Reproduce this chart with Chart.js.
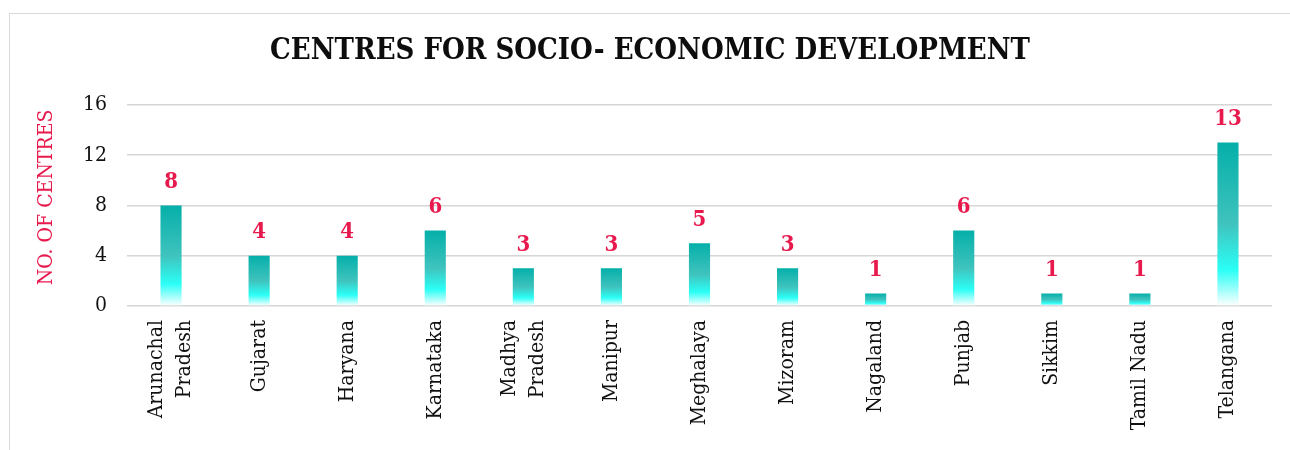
<!DOCTYPE html>
<html lang="en">
<head>
    <meta charset="UTF-8">
    <title>Centres for Socio-Economic Development</title>
    <script src="https://cdn.jsdelivr.net/npm/chart.js@4.4.0/dist/chart.umd.min.js"></script>
    <style>
        body {
            margin: 0;
            background: #ffffff;
            overflow: hidden;
        }
        .frame {
            position: absolute;
            left: 9px;
            top: 13px;
            width: 1300px;
            height: 460px;
            border: 1px solid #d9d9d9;
        }
        .wrap {
            position: absolute;
            left: 0;
            top: 0;
            width: 1290px;
            height: 450px;
        }
    </style>
</head>
<body>
    <div class="frame"></div>
    <div class="wrap"><canvas id="chart"></canvas></div>

    <script>
        const states = [
            ['Arunachal', 'Pradesh'], 'Gujarat', 'Haryana', 'Karnataka',
            ['Madhya', 'Pradesh'], 'Manipur', 'Meghalaya', 'Mizoram',
            'Nagaland', 'Punjab', 'Sikkim', 'Tamil Nadu', 'Telangana'
        ];
        const centres = [8, 4, 4, 6, 3, 3, 5, 3, 1, 6, 1, 1, 13];
        const yTicks = [0, 4, 8, 12, 16];
        const yTitle = 'NO. OF CENTRES';

        const serif = "'DejaVu Serif Condensed', 'DejaVu Serif', serif";
        const labelRed = '#e8194d';

        function barGradient(context) {
            const chart = context.chart;
            const area = chart.chartArea;
            if (!area || context.parsed == null) return '#05afa9';
            const y = chart.scales.y;
            const top = y.getPixelForValue(context.parsed.y);
            const base = y.getPixelForValue(0);
            const g = chart.ctx.createLinearGradient(0, top, 0, base);
            g.addColorStop(0, '#05afa9');
            g.addColorStop(0.5, '#40c3be');
            g.addColorStop(0.78, '#2afff6');
            g.addColorStop(1, '#ffffff');
            return g;
        }

        // value labels, rotated category labels and the y title
        const extraText = {
            id: 'extraText',
            afterDraw(chart) {
                const ctx = chart.ctx;
                const meta = chart.getDatasetMeta(0);
                const xs = chart.scales.x;
                const ys = chart.scales.y;
                ctx.save();

                ctx.font = "bold 22px " + serif;
                ctx.fillStyle = labelRed;
                ctx.textAlign = 'center';
                ctx.textBaseline = 'bottom';
                meta.data.forEach((bar, i) => {
                    ctx.fillText(centres[i], bar.x, bar.y - 12);
                });

                ctx.font = "21px " + serif;
                ctx.fillStyle = '#111111';
                ctx.textAlign = 'right';
                ctx.textBaseline = 'middle';
                states.forEach((label, i) => {
                    const lines = Array.isArray(label) ? label : [label];
                    const cx = xs.getPixelForTick(i);
                    lines.forEach((line, j) => {
                        const off = (j - (lines.length - 1) / 2) * 28;
                        ctx.save();
                        ctx.translate(cx + off, xs.top + 14);
                        ctx.rotate(-Math.PI / 2);
                        ctx.fillText(line, 0, 0);
                        ctx.restore();
                    });
                });

                ctx.fillStyle = labelRed;
                ctx.textAlign = 'center';
                ctx.save();
                ctx.translate(47, (ys.top + ys.bottom) / 2 - 8);
                ctx.rotate(-Math.PI / 2);
                ctx.fillText(yTitle, 0, 0);
                ctx.restore();

                ctx.restore();
            }
        };

        new Chart(document.getElementById('chart'), {
            type: 'bar',
            data: {
                labels: states,
                datasets: [{
                    data: centres,
                    backgroundColor: barGradient,
                    barPercentage: 0.24,
                    categoryPercentage: 1
                }]
            },
            options: {
                responsive: true,
                maintainAspectRatio: false,
                animation: false,
                layout: { padding: { top: 0, right: 18, bottom: 0, left: 28 } },
                plugins: {
                    legend: { display: false },
                    tooltip: { enabled: false },
                    title: {
                        display: true,
                        text: 'CENTRES FOR SOCIO- ECONOMIC DEVELOPMENT',
                        color: '#0d0d0d',
                        font: { family: serif, size: 29, weight: 'bold' },
                        padding: { top: 34, bottom: 36 }
                    }
                },
                scales: {
                    x: {
                        grid: { display: false, drawTicks: false },
                        border: { display: false },
                        ticks: { display: false },
                        afterFit(scale) { scale.height = 144; }
                    },
                    y: {
                        min: 0,
                        max: 16,
                        afterBuildTicks(scale) {
                            scale.ticks = yTicks.map(v => ({ value: v }));
                        },
                        grid: { color: '#d6d6d6', lineWidth: 1.5, drawTicks: false },
                        border: { display: false },
                        ticks: {
                            color: '#111111',
                            font: { family: serif, size: 21 },
                            padding: 20
                        },
                        afterFit(scale) { scale.width = 99; }
                    }
                }
            },
            plugins: [extraText]
        });
    </script>
</body>
</html>
